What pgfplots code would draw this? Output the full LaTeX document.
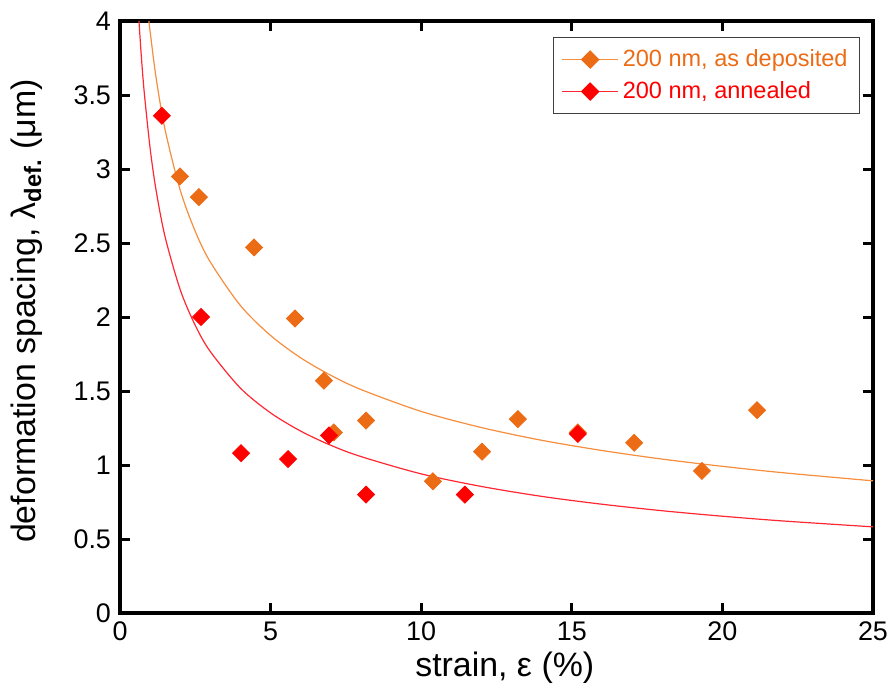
\documentclass[border=0pt]{standalone}
\usepackage{pgfplots}
\pgfplotsset{compat=1.18}
\usepackage{fontspec}
\setmainfont{Liberation Sans}

\definecolor{ptorange}{RGB}{236,108,22}
\definecolor{lnorange}{RGB}{246,142,62}
\definecolor{ptred}{RGB}{255,0,0}
\definecolor{lnred}{RGB}{255,40,50}

\begin{document}
\begin{tikzpicture}
\useasboundingbox (-60bp,-41bp) rectangle (386.5bp,306.5bp);
\begin{axis}[
    at={(0,0)}, anchor=south west,
    scale only axis,
    width=376.5bp, height=296bp,
    xmin=0, xmax=25, ymin=0, ymax=4,
    xtick={0,5,...,25},
    ytick={0,0.5,...,4},
    tick align=inside,
    major tick length=5bp,
    axis line style={line width=1.6bp},
    every tick/.style={black, line width=1.5bp},
    /pgf/number format/assume math mode=true,
    ticklabel style={font=\fontsize{13.5}{15}\selectfont},
    xticklabel style={yshift=-1bp},
    yticklabel style={xshift=-1bp},
    label style={font=\fontsize{17}{19}\selectfont},
    xlabel={strain, ε (\%)},
    ylabel={deformation spacing, λ\textsubscript{\textbf{def.}} (μm)},
    xlabel style={at={(axis description cs:0.511,-0.093)}, anchor=center},
    ylabel style={at={(axis description cs:-0.1235,0.51)}, anchor=center},
    legend style={at={(0.983,0.973)}, anchor=north east,
        draw=black!75, line width=0.6bp,
        font=\fontsize{11.8}{14}\selectfont,
        inner xsep=4bp, inner ysep=4bp,
        row sep=2bp},
    legend cell align=left,
    legend image code/.code={
        \draw[mark repeat=2, mark phase=2, #1]
            plot coordinates {(0bp,0bp) (14bp,0bp) (28bp,0bp)};},
    clip=true,
]
% fitted curves
\addplot[lnorange, line width=0.6bp, smooth, forget plot] coordinates {
  (0.96,4.0) (1.0,3.93) (1.2,3.614) (1.5,3.262) (2,2.857) (2.5,2.578)
  (3,2.371) (4,2.077) (5,1.875) (6,1.724) (7,1.606) (8,1.510)
  (10,1.362) (12,1.253) (14,1.167) (16,1.098) (18,1.040) (20,0.991)
  (22,0.948) (25,0.893)};
\addplot[lnred, line width=0.6bp, smooth, forget plot] coordinates {
  (0.63,4.0) (0.7,3.785) (0.8,3.529) (1.0,3.14) (1.2,2.854) (1.5,2.539)
  (2,2.184) (2.5,1.943) (3,1.766) (4,1.519) (5,1.352) (6,1.229)
  (7,1.133) (8,1.057) (10,0.940) (12,0.855) (14,0.788) (16,0.735)
  (18,0.691) (20,0.654) (22,0.622) (25,0.582)};
% 200 nm, as deposited
\addplot[only marks, mark=square*, mark size=3bp,
    mark options={rotate=45, fill=ptorange, draw=ptorange}, forget plot]
  coordinates {
  (1.99,2.95) (2.62,2.81) (4.45,2.47) (5.81,1.99) (6.77,1.57)
  (7.10,1.22) (8.17,1.30) (10.39,0.89) (12.02,1.09) (13.21,1.31)
  (15.20,1.22) (17.07,1.15) (19.32,0.96) (21.15,1.37)};
% 200 nm, annealed
\addplot[only marks, mark=square*, mark size=3bp,
    mark options={rotate=45, fill=ptred, draw=ptred}, forget plot]
  coordinates {
  (1.39,3.36) (2.69,2.00) (4.02,1.08) (5.58,1.04) (6.94,1.20)
  (8.17,0.80) (11.45,0.80) (15.20,1.21)};
\addlegendimage{lnorange, line width=0.6bp, mark=square*, mark size=3bp,
    mark options={rotate=45, fill=ptorange, draw=ptorange}}
\addlegendentry{\textcolor{ptorange}{200 nm, as deposited}}
\addlegendimage{lnred, line width=0.6bp, mark=square*, mark size=3bp,
    mark options={rotate=45, fill=ptred, draw=ptred}}
\addlegendentry{\textcolor{ptred}{200 nm, annealed}}
\end{axis}
\end{tikzpicture}
\end{document}
